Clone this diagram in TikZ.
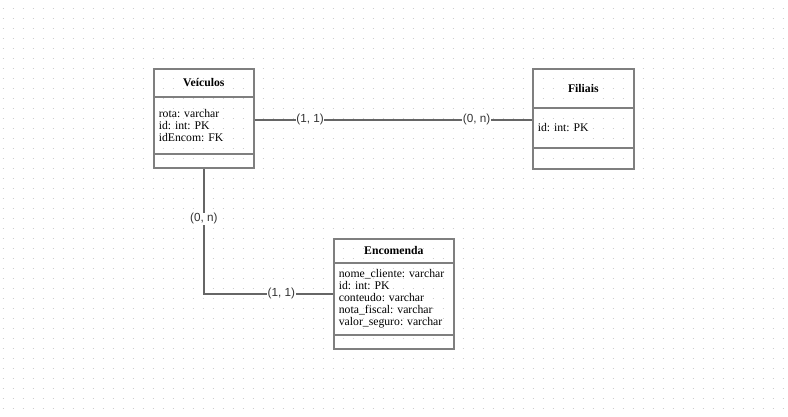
\documentclass[tikz,border=0pt]{standalone}
\usepackage{fontspec}
\setmainfont{Liberation Serif}
\newfontfamily\lblfont{Liberation Sans}
\usepackage{tikz}
\usetikzlibrary{positioning}
\frenchspacing
\definecolor{boxline}{HTML}{7F7F7F}
\definecolor{connline}{HTML}{666666}
\definecolor{lbltext}{HTML}{333333}
\tikzset{>=latex}
\tikzstyle{griddot} = [gray!40, line width=0.03cm, dash pattern=on 0.03cm off 0.27cm]
\tikzstyle{enthead} = [draw=boxline, line width=0.05cm, rectangle, anchor=north west,
    font=\fontsize{10}{12}\selectfont\bfseries, inner sep=0pt]
\tikzstyle{entattr} = [draw=boxline, line width=0.05cm, rectangle, anchor=north west,
    font=\fontsize{10}{10.3}\selectfont, align=left, inner xsep=0.15cm, inner ysep=0pt]
\tikzstyle{entfoot} = [draw=boxline, line width=0.05cm, rectangle, anchor=north west, inner sep=0pt]
\tikzstyle{conn} = [draw=connline, line width=0.06cm]
\tikzstyle{lbl} = [fill=white, inner sep=0.5pt, text=lbltext, font=\lblfont\fontsize{10}{11}\selectfont]

\begin{document}
\begin{tikzpicture}[x=0.03cm, y=-0.03cm]
    \useasboundingbox (0,0) rectangle (788,416);
    \fill[white] (0,0) rectangle (788,416);
    \foreach \y in {8,18,...,408}
        \draw[griddot] (2.5,\y) -- (788,\y);

    % Veiculos
    \node [enthead, minimum width=3cm, minimum height=0.84cm] (vei) at (153,68) {Veículos};
    \node [entattr, minimum width=3cm, minimum height=1.71cm, text width=2.7cm] (veiattr) at (153,96)
        {rota: varchar\\id: int: PK\\idEncom: FK};
    \node [entfoot, minimum width=3cm, minimum height=0.42cm] (veifoot) at (153,153) {};

    % Filiais
    \node [enthead, minimum width=3.03cm, minimum height=1.17cm] (fil) at (532,68) {Filiais};
    \node [entattr, minimum width=3.03cm, minimum height=1.2cm, text width=2.73cm] (filattr) at (532,107)
        {id: int: PK};
    \node [entfoot, minimum width=3.03cm, minimum height=0.63cm] (filfoot) at (532,147) {};

    % Encomenda
    \node [enthead, minimum width=3.6cm, minimum height=0.72cm] (enc) at (333,238) {Encomenda};
    \node [entattr, minimum width=3.6cm, minimum height=2.16cm, text width=3.3cm] (encattr) at (333,262)
        {nome\_cliente: varchar\\id: int: PK\\conteudo: varchar\\nota\_fiscal: varchar\\valor\_seguro: varchar};
    \node [entfoot, minimum width=3.6cm, minimum height=0.42cm] (encfoot) at (333,334) {};

    \draw [conn] ([yshift=0.165cm]veiattr.east) coordinate (vf) -- (vf -| filattr.west)
        node [lbl, pos=0.2] {(1, 1)} node [lbl, pos=0.8] {(0, n)};
    \draw [conn] (veifoot.south) |- ([yshift=0.15cm]encattr.west)
        node [lbl, pos=0.2] {(0, n)} node [lbl, pos=0.8] {(1, 1)};
\end{tikzpicture}
\end{document}
